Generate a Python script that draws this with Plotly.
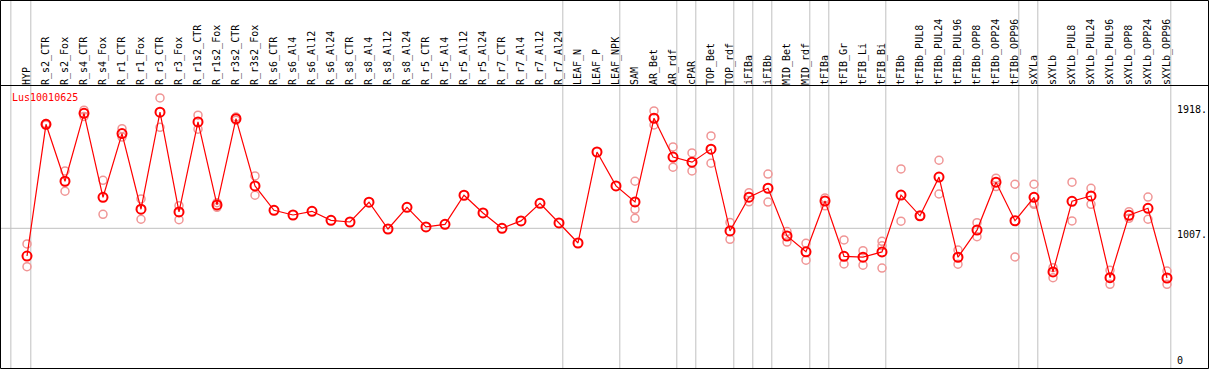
import plotly.graph_objects as go

W, H = 1209, 370

categories = ["HYP", "R_s2_CTR", "R_s2_Fox", "R_s4_CTR", "R_s4_Fox", "R_r1_CTR", "R_r1_Fox",
              "R_r3_CTR", "R_r3_Fox", "R_r1s2_CTR", "R_r1s2_Fox", "R_r3s2_CTR", "R_r3s2_Fox",
              "R_s6_CTR", "R_s6_Al4", "R_s6_Al12", "R_s6_Al24", "R_s8_CTR", "R_s8_Al4", "R_s8_Al12",
              "R_s8_Al24", "R_r5_CTR", "R_r5_Al4", "R_r5_Al12", "R_r5_Al24", "R_r7_CTR", "R_r7_Al4",
              "R_r7_Al12", "R_r7_Al24", "LEAF_N", "LEAF_P", "LEAF_NPK", "SAM", "AR_Bet", "AR_rdf",
              "cPAR", "TOP_Bet", "TOP_rdf", "iFIBa", "iFIBb", "MID_Bet", "MID_rdf", "tFIBa",
              "tFIB_Gr", "tFIB_Li", "tFIB_Bi", "tFIBb", "tFIBb_PUL8", "tFIBb_PUL24", "tFIBb_PUL96",
              "tFIBb_OPP8", "tFIBb_OPP24", "tFIBb_OPP96", "sXYLa", "sXYLb", "sXYLb_PUL8",
              "sXYLb_PUL24", "sXYLb_PUL96", "sXYLb_OPP8", "sXYLb_OPP24", "sXYLb_OPP96"]

means = [805, 1765, 1350, 1845, 1233, 1697, 1146, 1853, 1126, 1782, 1177, 1806, 1316,
         1138, 1104, 1131, 1065, 1053, 1197, 1002, 1160, 1017, 1036, 1248, 1119, 1007, 1061,
         1189, 1046, 900, 1563, 1316, 1199, 1809, 1526, 1489, 1584, 988, 1234, 1299, 951,
         836, 1206, 803, 797, 835, 1249, 1098, 1380, 796, 994, 1343, 1062, 1233, 689, 1204,
         1243, 647, 1102, 1153, 645]

replicates = [[893, 727], [1770, 1760], [1425, 1277], [1868, 1822], [1357, 1109], [1733, 1672],
              [1221, 1073], [1957, 1743], [1172, 1070], [1831, 1729], [1194, 1160], [1818, 1794],
              [1389, 1248],
              [], [], [], [], [], [], [], [], [], [], [], [], [], [], [], [], [], [], [],
              [1350, 1145, 1080], [1862, 1760], [1600, 1452], [1556, 1425], [1680, 1481],
              [1050, 927], [1267, 1200], [1402, 1198], [983, 907], [898, 775], [1228, 1171],
              [922, 747], [844, 738], [912, 880, 717], [1440, 1059], [1098], [1503, 1257],
              [849, 745], [1048, 946], [1372, 1311], [1328, 798], [1328, 1189, 1182], [720, 647],
              [1343, 1061], [1299, 1182], [701, 599], [1128, 1080], [1235, 1073], [696, 599]]

group_sizes = [1, 28, 3, 3, 1, 2, 1, 1, 2, 1, 3, 7, 1, 7]
y_ticks = [0, 1007, 1918]
y_tick_text = ["0", "1007.", "1918."]
gene = "Lus10010625"

FONT = "DejaVu Sans Mono"
GRAY = "#c0c0c0"

xs = list(range(len(categories)))
rx, ry = [], []
for i, reps in enumerate(replicates):
    for v in reps:
        rx.append(i)
        ry.append(v)

fig = go.Figure()
fig.add_trace(go.Scatter(x=rx, y=ry, mode="markers",
                         marker=dict(symbol="circle-open", size=8, color="rgb(240,150,150)",
                                     line=dict(width=1.5)),
                         hoverinfo="skip", showlegend=False))
fig.add_trace(go.Scatter(x=xs, y=means, mode="lines+markers",
                         line=dict(color="red", width=1.2),
                         marker=dict(symbol="circle-open", size=9, color="red",
                                     line=dict(width=2)),
                         showlegend=False))

shapes = []
bounds = [-1]
for s in group_sizes:
    bounds.append(bounds[-1] + s)
for k, b in enumerate(bounds):
    xb = b + 0.2 if k > 0 else -0.85
    shapes.append(dict(type="line", xref="x", yref="paper", x0=xb, x1=xb,
                       y0=(H - 368) / H, y1=1, line=dict(color=GRAY, width=1), layer="below"))
shapes.append(dict(type="line", xref="paper", yref="y", x0=0, x1=(bounds[-1] + 0.2 + 27 / 19.0) * 19.0 / W,
                   y0=y_ticks[1], y1=y_ticks[1], line=dict(color=GRAY, width=1), layer="below"))
shapes.append(dict(type="rect", xref="paper", yref="paper", x0=0.5 / W, x1=1208.5 / W,
                   y0=(H - 368.5) / H, y1=(H - 0.5) / H, line=dict(color="black", width=1)))
shapes.append(dict(type="line", xref="paper", yref="paper", x0=0, x1=1,
                   y0=(H - 85.5) / H, y1=(H - 85.5) / H, line=dict(color="black", width=1)))

annotations = [dict(text=gene, xref="paper", yref="paper", x=10 / W, y=(H - 97) / H,
                    xanchor="left", yanchor="middle", showarrow=False,
                    font=dict(family=FONT, size=10, color="red"))]
for v, t in zip(y_ticks, y_tick_text):
    annotations.append(dict(text=t, xref="paper", yref="y", x=1176 / W, y=v,
                            xanchor="left", yanchor="bottom" if v == 0 else "top",
                            showarrow=False, borderpad=0,
                            font=dict(family=FONT, size=10, color="black")))

fig.update_layout(
    width=W, height=H, margin=dict(l=0, r=0, t=0, b=0),
    paper_bgcolor="white", plot_bgcolor="white",
    shapes=shapes, annotations=annotations,
    xaxis=dict(range=[-27 / 19.0, (W - 27) / 19.0], tickmode="array", tickvals=xs,
               ticktext=categories, side="top", tickangle=-90, showgrid=False,
               zeroline=False, showline=False, ticks="",
               tickfont=dict(family=FONT, size=10, color="black"), fixedrange=True),
    yaxis=dict(domain=[0, (H - 86) / H], range=[-25.5, 2044], showgrid=False,
               zeroline=False, showticklabels=False, ticks="", fixedrange=True),
)

fig.write_html("out.html", config={"displayModeBar": False},
               post_script="document.body.style.margin='0px';")
